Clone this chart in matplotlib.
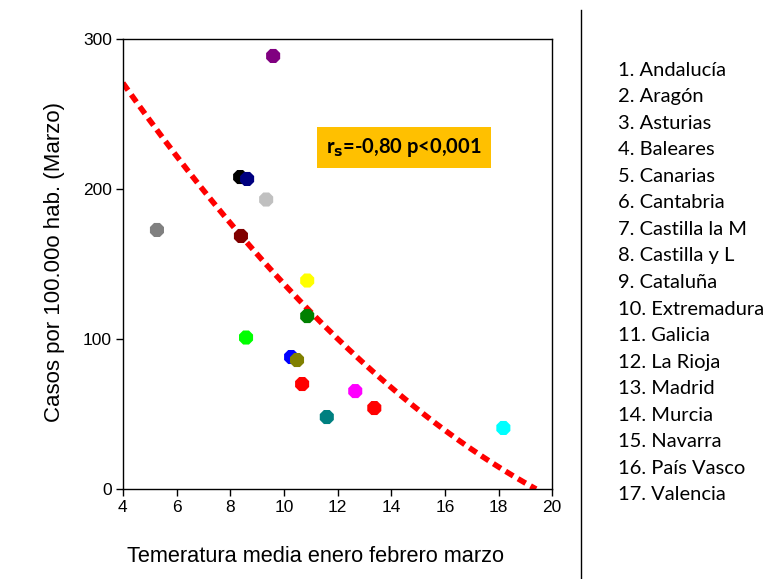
import numpy as np
import matplotlib.pyplot as plt

# Data
temperatura = [9.6, 8.37, 8.63, 9.34, 5.27, 8.4, 10.87, 10.87, 8.59,
               10.27, 10.49, 10.68, 12.66, 13.37, 11.6, 18.18]
casos = [288.7, 208, 206.7, 193, 172.7, 168.7, 139, 115.3, 101,
         88, 86, 70, 65.3, 54, 48, 40.7]
colores = ['#800080', '#000000', '#000080', '#C0C0C0', '#808080', '#800000',
           '#FFFF00', '#008000', '#00FF00', '#0000FF', '#808000', '#FF0000',
           '#FF00FF', '#FF0000', '#008080', '#00FFFF']

# Trend curve (quadratic) coefficients
coef = [0.5043, -29.378, 380.14]
x_trend_range = (4, 19.4)

regiones = ['Andalucía', 'Aragón', 'Asturias', 'Baleares', 'Canarias',
            'Cantabria', 'Castilla la M', 'Castilla y L', 'Cataluña',
            'Extremadura', 'Galicia', 'La Rioja', 'Madrid', 'Murcia',
            'Navarra', 'País Vasco', 'Valencia']

fig = plt.figure(figsize=(7.68, 5.79), dpi=100)
ax = fig.add_axes([0.160, 0.1554, 0.559, 0.7772])

xt = np.linspace(x_trend_range[0], x_trend_range[1], 200)
ax.plot(xt, np.polyval(coef, xt), color='#FF0000', linestyle=(0, (1.6, 1.0)),
        linewidth=4, zorder=2)

ax.scatter(temperatura, casos, c=colores, marker='8', s=120, zorder=3,
           linewidths=0)

ax.set_xlim(4, 20)
ax.set_ylim(0, 300)
ax.set_xticks(range(4, 21, 2))
ax.set_yticks([0, 100, 200, 300])
for lab in ax.get_xticklabels() + ax.get_yticklabels():
    lab.set_family('Liberation Sans')
    lab.set_fontsize(12.5)
ax.tick_params(direction='out', length=5, width=1, pad=3)
for s in ax.spines.values():
    s.set_linewidth(1)
    s.set_color('#000000')

ax.set_xlabel('Temeratura media enero febrero marzo', family='Liberation Sans',
              fontsize=15.7)
ax.xaxis.set_label_coords(0.4476, -0.127)
ax.set_ylabel('Casos por 100.00o hab. (Marzo)', family='Liberation Sans',
              fontsize=16)
ax.yaxis.set_label_coords(-0.135, 0.504)

# Correlation box
ax.text(0.655, 0.759, r'r$_\mathbf{s}$=-0,80 p<0,001', transform=ax.transAxes,
        ha='center', va='center', fontsize=14.5, fontweight='bold', family='Lato',
        bbox=dict(boxstyle='square,pad=0.45', facecolor='#FFC000',
                  edgecolor='none'))

# Separator line
fig.add_artist(plt.Line2D([581 / 768, 581 / 768], [0, 1 - 10 / 579],
                          color='black', linewidth=1, transform=fig.transFigure))

# Region list
for i, r in enumerate(regiones):
    fig.text(618 / 768, 1 - (70 + i * 26.56) / 579, f'{i + 1}. {r}',
             ha='left', va='center', fontsize=14.5, family='Lato')

fig.savefig('out.png', dpi=100)
